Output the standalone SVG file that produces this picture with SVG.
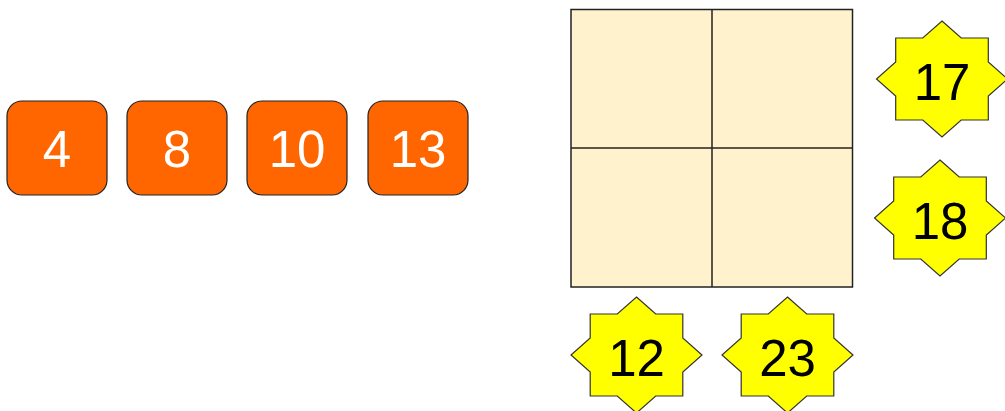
<svg xmlns="http://www.w3.org/2000/svg" xmlns:xlink="http://www.w3.org/1999/xlink" width="1005" height="411" viewBox="0 0 1005 411">
<style>
.box{fill:#FF6600;stroke:#222;stroke-width:1.2}
.btxt{fill:#FFFFFF;font-family:"Liberation Sans",Arial,sans-serif;font-size:51px;text-anchor:middle}
.star{fill:#FFFF00;stroke:#333;stroke-width:1.2}
.stxt{fill:#000;font-family:"Liberation Sans",Arial,sans-serif;font-size:51px;text-anchor:middle}
.cell{fill:#FFF2CC;stroke:#222;stroke-width:1.5}
.line{stroke:#222;stroke-width:1.5;fill:none}
</style>
<defs>
<polygon id="star8" points="0,-58 19.2,-41 46.3,-41 46.3,-17 65.5,0 46.3,17 46.3,41 19.2,41 0,58 -19.2,41 -46.3,41 -46.3,17 -65.5,0 -46.3,-17 -46.3,-41 -19.2,-41"/>
</defs>
<rect width="1005" height="411" fill="#FFFFFF"/>
<g id="grid">
<rect class="cell" x="571" y="9.5" width="281.5" height="277.5"/>
<line class="line" x1="712" y1="9.5" x2="712" y2="287"/>
<line class="line" x1="571" y1="148" x2="852.5" y2="148"/>
</g>
<g id="connectors"></g>
<g id="box4"><rect class="box" x="7" y="101" width="100" height="94" rx="15"/><text class="btxt" x="57" y="167">4</text></g>
<g id="box8"><rect class="box" x="127" y="101" width="100" height="94" rx="15"/><text class="btxt" x="177" y="167">8</text></g>
<g id="box10"><rect class="box" x="247" y="101" width="100" height="94" rx="15"/><text class="btxt" x="297" y="167">10</text></g>
<g id="box13"><rect class="box" x="368" y="101" width="100" height="94" rx="15"/><text class="btxt" x="418" y="167">13</text></g>
<g id="star17"><use href="#star8" xlink:href="#star8" class="star" x="942" y="79"/><text class="stxt" x="942" y="100">17</text></g>
<g id="star18"><use href="#star8" xlink:href="#star8" class="star" x="940" y="218"/><text class="stxt" x="940" y="239">18</text></g>
<g id="star12"><use href="#star8" xlink:href="#star8" class="star" x="636.5" y="355"/><text class="stxt" x="636.5" y="376">12</text></g>
<g id="star23"><use href="#star8" xlink:href="#star8" class="star" x="787.5" y="355"/><text class="stxt" x="787.5" y="376">23</text></g>
</svg>
